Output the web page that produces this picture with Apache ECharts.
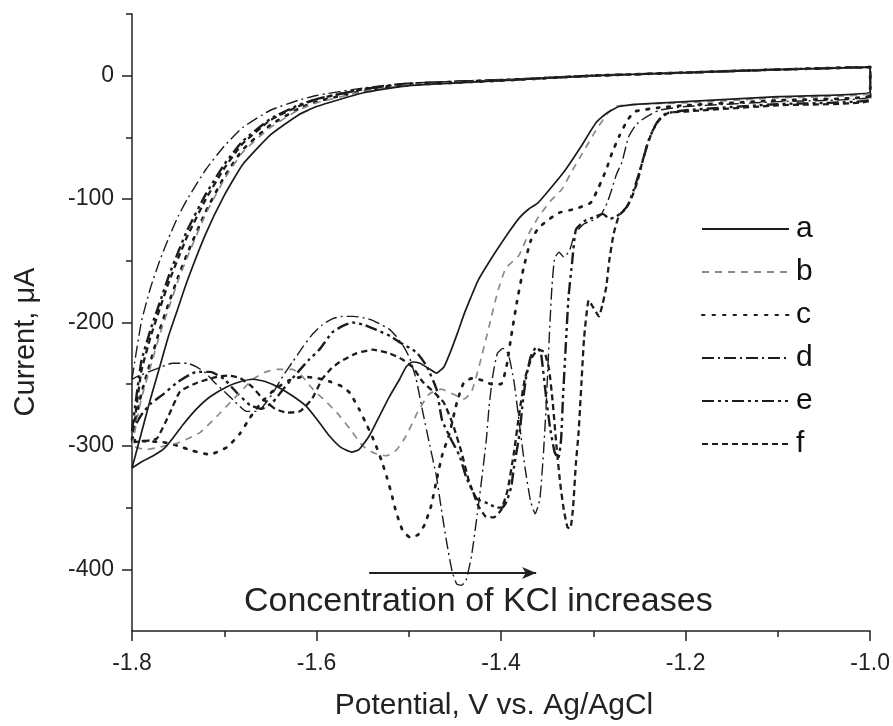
<!DOCTYPE html>
<html>
<head>
<meta charset="utf-8">
<script src="https://cdn.jsdelivr.net/npm/echarts@6/dist/echarts.min.js"></script>
<style>
  html, body { margin: 0; padding: 0; background: #ffffff; }
  #main { width: 893px; height: 726px; }
</style>
</head>
<body>
<div id="main"></div>
<script>
// Cyclic voltammograms a-f: anodic (upper) branches share one potential grid,
// cathodic (lower) branches are given as [potential, current] pairs, left to right.
const seriesNames = ['a', 'b', 'c', 'd', 'e', 'f'];

const upperPotential = [-1.80, -1.79, -1.78, -1.77, -1.76, -1.75, -1.74, -1.72, -1.70, -1.68,
                        -1.65, -1.62, -1.60, -1.55, -1.50, -1.40, -1.30, -1.20, -1.10, -1.00];
const upperA = [-318, -290, -262, -236, -210, -188, -166, -128, -97, -72, -48, -32, -25, -14, -8, -4, 0, 2.5, 5, 7];
const upperB = [-300, -262, -236, -210, -188, -166, -147, -112, -84, -62, -42, -28, -22, -13, -7.5, -4, 0, 2.5, 5, 7];
const upperC = [-295, -258, -232, -206, -184, -163, -144, -110, -82, -60, -40, -27, -21, -12.5, -7.5, -4, 0, 2.5, 5, 7];
const upperD = [-246, -200, -172, -150, -131, -114, -100, -76, -57, -42, -28, -20, -16, -10, -6, -3.5, 0, 2.5, 5, 7];
const upperE = [-288, -232, -206, -184, -162, -143, -125, -96, -72, -53, -35, -24, -19, -11, -6.5, -3.5, 0, 2.5, 5, 7];
const upperF = [-297, -240, -212, -189, -167, -148, -130, -100, -75, -55, -36, -25, -19, -11, -6.5, -3.5, 0, 2.5, 5, 7];

const lowerA = [[-1.80,-318],[-1.79,-313],[-1.777,-308],[-1.765,-302],[-1.756,-294],[-1.745,-283],[-1.73,-270],
  [-1.715,-260],[-1.697,-252],[-1.683,-248],[-1.669,-246],[-1.655,-248],[-1.64,-253],[-1.625,-260],[-1.611,-268],
  [-1.598,-280],[-1.586,-292],[-1.574,-301],[-1.562,-305],[-1.554,-303],[-1.543,-292],[-1.532,-276],[-1.521,-260],
  [-1.51,-246],[-1.503,-236],[-1.496,-232],[-1.488,-233],[-1.479,-237],[-1.47,-241],[-1.462,-236],[-1.455,-224],
  [-1.447,-208],[-1.44,-193],[-1.433,-180],[-1.425,-166],[-1.413,-151],[-1.40,-136],[-1.39,-125],[-1.38,-115],
  [-1.37,-108],[-1.36,-103],[-1.345,-90],[-1.33,-76],[-1.313,-57],[-1.297,-38],[-1.285,-30],[-1.272,-25],
  [-1.25,-23],[-1.20,-21],[-1.10,-17],[-1.00,-13]];

const lowerB = [[-1.80,-300],[-1.785,-303],[-1.77,-301],[-1.748,-297],[-1.726,-289],[-1.708,-276],[-1.69,-262],
  [-1.669,-246],[-1.655,-240],[-1.643,-238],[-1.626,-238],[-1.615,-244],[-1.604,-254],[-1.59,-264],[-1.578,-273],
  [-1.563,-287],[-1.55,-300],[-1.537,-306],[-1.524,-308],[-1.513,-303],[-1.503,-292],[-1.49,-272],[-1.478,-258],
  [-1.465,-254],[-1.452,-258],[-1.44,-262],[-1.432,-256],[-1.424,-236],[-1.413,-203],[-1.404,-176],[-1.395,-156],
  [-1.381,-146],[-1.37,-128],[-1.359,-114],[-1.347,-102],[-1.334,-92],[-1.323,-77],[-1.312,-63],[-1.297,-44],
  [-1.285,-31],[-1.276,-25],[-1.25,-23],[-1.20,-22],[-1.10,-18],[-1.00,-14]];

const lowerC = [[-1.80,-295],[-1.79,-296],[-1.766,-297],[-1.75,-300],[-1.734,-304],[-1.716,-307],[-1.697,-301],
  [-1.683,-290],[-1.672,-277],[-1.66,-265],[-1.645,-254],[-1.63,-247],[-1.615,-244],[-1.60,-245],[-1.585,-248],
  [-1.572,-252],[-1.564,-257],[-1.554,-270],[-1.545,-284],[-1.537,-297],[-1.53,-311],[-1.524,-325],[-1.519,-338],
  [-1.514,-353],[-1.507,-368],[-1.499,-374],[-1.49,-372],[-1.483,-364],[-1.476,-349],[-1.47,-328],[-1.464,-308],
  [-1.456,-290],[-1.448,-265],[-1.44,-248],[-1.43,-245],[-1.42,-247],[-1.41,-250],[-1.40,-250],[-1.394,-235],
  [-1.389,-211],[-1.383,-184],[-1.376,-157],[-1.368,-134],[-1.36,-124],[-1.351,-118],[-1.337,-111],[-1.32,-108],
  [-1.303,-103],[-1.294,-90],[-1.286,-76],[-1.28,-63],[-1.272,-49],[-1.263,-36],[-1.255,-29],[-1.23,-26],
  [-1.20,-24],[-1.10,-20],[-1.00,-16]];

const lowerD = [[-1.80,-246],[-1.795,-244],[-1.775,-238],[-1.756,-233],[-1.74,-233],[-1.73,-236],[-1.72,-241],
  [-1.71,-249],[-1.70,-256],[-1.69,-263],[-1.676,-272],[-1.665,-272],[-1.658,-268],[-1.648,-258],[-1.637,-244],
  [-1.626,-232],[-1.615,-220],[-1.605,-210],[-1.594,-202],[-1.583,-197],[-1.572,-195],[-1.56,-195],[-1.55,-196],
  [-1.54,-198],[-1.532,-201],[-1.522,-205],[-1.514,-211],[-1.506,-219],[-1.499,-229],[-1.492,-246],[-1.485,-272],
  [-1.478,-297],[-1.47,-325],[-1.465,-350],[-1.459,-378],[-1.453,-402],[-1.448,-412],[-1.443,-413],[-1.438,-409],
  [-1.432,-389],[-1.427,-362],[-1.422,-333],[-1.416,-295],[-1.413,-268],[-1.409,-243],[-1.404,-225],[-1.398,-221],
  [-1.392,-226],[-1.386,-248],[-1.38,-283],[-1.374,-318],[-1.368,-345],[-1.363,-355],[-1.358,-343],[-1.354,-305],
  [-1.351,-265],[-1.348,-215],[-1.345,-172],[-1.342,-148],[-1.337,-143],[-1.332,-147],[-1.326,-142],[-1.32,-128],
  [-1.31,-120],[-1.30,-117],[-1.292,-113],[-1.285,-103],[-1.28,-92],[-1.275,-80],[-1.269,-70],[-1.262,-50],
  [-1.254,-40],[-1.248,-36],[-1.229,-28],[-1.20,-25],[-1.10,-21],[-1.00,-17]];

const lowerE = [[-1.80,-288],[-1.79,-275],[-1.78,-266],[-1.766,-258],[-1.75,-248],[-1.73,-240],[-1.715,-240],
  [-1.70,-246],[-1.685,-258],[-1.672,-267],[-1.66,-270],[-1.648,-265],[-1.635,-253],[-1.62,-240],[-1.608,-230],
  [-1.597,-222],[-1.583,-208],[-1.572,-203],[-1.561,-200],[-1.548,-202],[-1.535,-206],[-1.52,-211],[-1.51,-216],
  [-1.492,-224],[-1.481,-235],[-1.47,-254],[-1.464,-279],[-1.454,-295],[-1.445,-308],[-1.438,-325],[-1.432,-335],
  [-1.426,-343],[-1.413,-347],[-1.405,-350],[-1.399,-350],[-1.394,-345],[-1.389,-333],[-1.386,-317],[-1.38,-290],
  [-1.377,-268],[-1.373,-245],[-1.368,-228],[-1.362,-220],[-1.357,-224],[-1.351,-262],[-1.347,-285],[-1.342,-305],
  [-1.338,-310],[-1.335,-295],[-1.333,-262],[-1.33,-220],[-1.327,-180],[-1.323,-151],[-1.319,-125],[-1.31,-118],
  [-1.297,-114],[-1.29,-112],[-1.282,-116],[-1.275,-114],[-1.268,-110],[-1.262,-104],[-1.256,-92],[-1.25,-78],
  [-1.245,-65],[-1.24,-52],[-1.232,-39],[-1.222,-31],[-1.20,-28],[-1.10,-23],[-1.00,-19]];

const lowerF = [[-1.80,-297],[-1.785,-296],[-1.773,-294],[-1.76,-275],[-1.748,-256],[-1.73,-249],[-1.708,-244],
  [-1.695,-243],[-1.683,-245],[-1.67,-252],[-1.658,-262],[-1.645,-270],[-1.632,-273],[-1.618,-272],[-1.605,-262],
  [-1.594,-246],[-1.585,-238],[-1.575,-232],[-1.557,-225],[-1.539,-222],[-1.521,-225],[-1.507,-230],[-1.496,-236],
  [-1.485,-248],[-1.472,-257],[-1.462,-265],[-1.452,-283],[-1.443,-305],[-1.435,-328],[-1.425,-348],[-1.417,-357],
  [-1.408,-358],[-1.40,-352],[-1.393,-336],[-1.386,-305],[-1.38,-272],[-1.374,-245],[-1.367,-229],[-1.36,-222],
  [-1.353,-224],[-1.348,-238],[-1.344,-265],[-1.34,-300],[-1.336,-330],[-1.332,-352],[-1.328,-366],[-1.325,-367],
  [-1.322,-350],[-1.319,-315],[-1.316,-289],[-1.313,-250],[-1.31,-212],[-1.305,-182],[-1.30,-188],[-1.294,-195],
  [-1.29,-185],[-1.286,-171],[-1.283,-151],[-1.278,-128],[-1.272,-113],[-1.265,-108],[-1.258,-98],[-1.252,-85],
  [-1.247,-70],[-1.242,-57],[-1.236,-45],[-1.228,-35],[-1.218,-30],[-1.20,-29],[-1.10,-24],[-1.00,-20]];

const xMajorTicks = [-1.8, -1.6, -1.4, -1.2, -1.0];
const xMinorTicks = [-1.7, -1.5, -1.3, -1.1];
const yMajorTicks = [-400, -300, -200, -100, 0];
const yMinorTicks = [-350, -250, -150, -50, 50];

const xTitle = 'Potential, V vs. Ag/AgCl';
const yTitle = 'Current, \u03bcA';
const annotationText = 'Concentration of KCl increases';
const arrowFrom = [-1.543, -403];
const arrowTo = [-1.362, -403];

const upperSets = [upperA, upperB, upperC, upperD, upperE, upperF];
const lowerSets = [lowerA, lowerB, lowerC, lowerD, lowerE, lowerF];

// Closed loop: anodic sweep left to right, then cathodic sweep back
function loop(upper, lower) {
  const pts = upperPotential.map((x, i) => [x, upper[i]]);
  for (let i = lower.length - 1; i >= 0; i--) pts.push(lower[i]);
  return pts;
}

const ink = '#1c1c1c';
const styles = [
  { color: ink, width: 1.7, type: 'solid' },
  { color: '#8a8a8a', width: 1.7, type: [7, 6] },
  { color: ink, width: 2.7, type: [2.5, 8], cap: 'round' },
  { color: ink, width: 1.4, type: [12, 4, 2, 4] },
  { color: ink, width: 2.4, type: [12, 4, 3, 4, 3, 4] },
  { color: ink, width: 2.3, type: [6, 4] }
];

const font = '"Liberation Sans", Arial, Helvetica, sans-serif';

const series = seriesNames.map((name, i) => ({
  name: name,
  type: 'line',
  xAxisIndex: 0,
  yAxisIndex: 0,
  data: loop(upperSets[i], lowerSets[i]),
  symbol: 'none',
  showSymbol: false,
  smooth: 0.15,
  clip: true,
  itemStyle: { color: styles[i].color },
  lineStyle: {
    color: styles[i].color,
    width: styles[i].width,
    type: styles[i].type,
    cap: styles[i].cap || 'butt',
    join: 'round'
  },
  z: 10 - i
}));

// Arrow showing the direction of increasing KCl concentration
series.push({
  name: 'arrow',
  type: 'line',
  data: [],
  symbol: 'none',
  markLine: {
    silent: true,
    symbol: ['none', 'arrow'],
    symbolSize: [9, 14],
    label: { show: false },
    lineStyle: { color: '#222', width: 2, type: 'solid' },
    data: [[{ coord: arrowFrom }, { coord: arrowTo }]]
  }
});

const axisLineStyle = { color: '#222', width: 1.5 };

const option = {
  animation: false,
  backgroundColor: '#ffffff',
  grid: { left: 132, right: 21, top: 14, bottom: 95, containLabel: false },
  legend: {
    data: seriesNames,
    orient: 'vertical',
    left: 696,
    top: 207,
    itemWidth: 87,
    itemHeight: 12,
    itemGap: 9,
    itemStyle: { opacity: 0 },
    textStyle: { fontFamily: font, fontSize: 30, color: '#111', lineHeight: 34, padding: [0, 0, 0, 2] },
    selectedMode: false
  },
  xAxis: [
    {
      type: 'value', min: -1.8, max: -1.0,
      position: 'bottom',
      axisLine: { show: true, onZero: false, lineStyle: axisLineStyle },
      axisTick: { show: true, length: 10, lineStyle: axisLineStyle, customValues: xMajorTicks },
      axisLabel: { customValues: xMajorTicks, formatter: v => v.toFixed(1), fontFamily: font, fontSize: 23, color: '#222', margin: 21 },
      splitLine: { show: false }
    },
    {
      type: 'value', min: -1.8, max: -1.0,
      position: 'bottom',
      axisLine: { show: false, onZero: false },
      axisTick: { show: true, length: 6, lineStyle: axisLineStyle, customValues: xMinorTicks },
      axisLabel: { show: false },
      splitLine: { show: false }
    }
  ],
  yAxis: [
    {
      type: 'value', min: -450, max: 50,
      position: 'left',
      axisLine: { show: true, onZero: false, lineStyle: axisLineStyle },
      axisTick: { show: true, length: 10, lineStyle: axisLineStyle, customValues: yMajorTicks },
      axisLabel: { customValues: yMajorTicks, fontFamily: font, fontSize: 23, color: '#222', margin: 18 },
      splitLine: { show: false }
    },
    {
      type: 'value', min: -450, max: 50,
      position: 'left',
      axisLine: { show: false, onZero: false },
      axisTick: { show: true, length: 6, lineStyle: axisLineStyle, customValues: yMinorTicks },
      axisLabel: { show: false },
      splitLine: { show: false }
    }
  ],
  graphic: [
    {
      type: 'text',
      left: 244,
      top: 585,
      style: { text: annotationText, fontFamily: font, fontSize: 34, fill: '#222' }
    },
    {
      type: 'text',
      x: 494,
      y: 706,
      style: { text: xTitle, fontFamily: font, fontSize: 30, fill: '#222', align: 'center', verticalAlign: 'middle' }
    },
    {
      type: 'text',
      x: 26,
      y: 342,
      rotation: Math.PI / 2,
      style: { text: yTitle, fontFamily: font, fontSize: 29, fill: '#222', align: 'center', verticalAlign: 'middle' }
    }
  ],
  series: series
};

const chart = echarts.init(document.getElementById('main'), null, { renderer: 'canvas' });
chart.setOption(option);
</script>
</body>
</html>
